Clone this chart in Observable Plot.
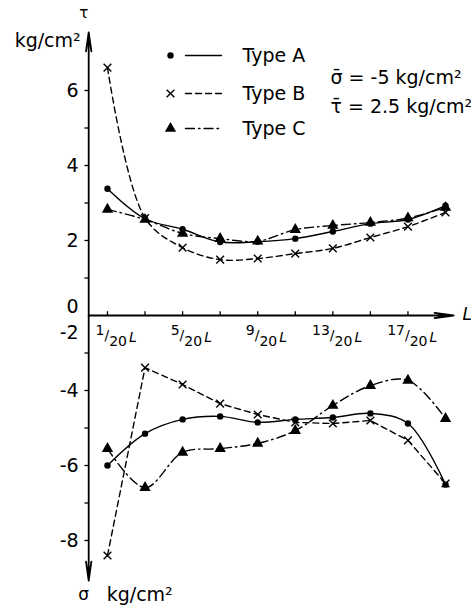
<!DOCTYPE html>
<html><head><meta charset="utf-8">
<script src="https://cdn.jsdelivr.net/npm/d3@7"></script>
<script src="https://cdn.jsdelivr.net/npm/@observablehq/plot@0.6"></script>
<style>body{margin:0;background:#fff}</style>
</head><body><div id="chart"></div>
<script>
// positions along the beam, in twentieths of L
const positions = [1, 3, 5, 7, 9, 11, 13, 15, 17, 19];
const seriesNames = ["Type A", "Type B", "Type C"];
// shear stress tau (kg/cm2)
const tauA = [3.38, 2.58, 2.30, 1.96, 1.97, 2.05, 2.24, 2.45, 2.56, 2.93];
const tauB = [6.61, 2.60, 1.81, 1.49, 1.52, 1.65, 1.79, 2.08, 2.37, 2.75];
const tauC = [2.83, 2.56, 2.19, 2.05, 1.98, 2.29, 2.40, 2.48, 2.60, 2.88];
// normal stress sigma (kg/cm2)
const sigmaA = [-6.00, -5.15, -4.77, -4.69, -4.85, -4.77, -4.72, -4.61, -4.88, -6.51];
const sigmaB = [-8.40, -3.39, -3.84, -4.35, -4.64, -4.85, -4.88, -4.80, -5.33, -6.48];
const sigmaC = [-5.55, -6.59, -5.65, -5.55, -5.41, -5.07, -4.40, -3.87, -3.73, -4.75];
// tick labels
const xLabelPos = [1, 5, 9, 13, 17];
const xLabelNums = ["1", "5", "9", "13", "17"];
const xTickPos = [1, 3, 5, 7, 9, 11, 13, 15, 17];
const tauTicks = [1, 2, 3, 4, 5, 6];
const tauTickLabels = [0, 2, 4, 6];
const sigmaTicks = [-3, -4, -5, -6, -7, -8];
const sigmaTickLabels = [-2, -4, -6, -8];
const annotations = ["σ\u0304 = -5 kg/cm²", "τ\u0304 = 2.5 kg/cm²"];

// broken axis: the sigma panel is drawn shifted so that sigma=-2 sits on the x axis
const SIGMA_SHIFT = 2;
const axisExtent = {xEnd: 19.43, yTop: 7.55, yBottom: -7.07};

const tauSets = {"Type A": tauA, "Type B": tauB, "Type C": tauC};
const sigmaSets = {"Type A": sigmaA, "Type B": sigmaB, "Type C": sigmaC};
const rows = [];
for (const s of seriesNames) {
  positions.forEach((p, i) => {
    rows.push({series: s, panel: "tau", x: p, value: tauSets[s][i], v: tauSets[s][i]});
    rows.push({series: s, panel: "sigma", x: p, value: sigmaSets[s][i], v: sigmaSets[s][i] + SIGMA_SHIFT});
  });
}

const style = {
  "Type A": {dash: null, symbol: "circle", fill: "black", stroke: "none", r: 3.2, curve: {tau: "catmull-rom", sigma: "catmull-rom"}},
  "Type B": {dash: "6,4", symbol: "times", fill: "none", stroke: "black", r: 3.6, curve: {tau: "catmull-rom", sigma: "linear"}},
  "Type C": {dash: "9,4,1.5,4", symbol: "triangle", fill: "black", stroke: "none", r: 4.2, curve: {tau: "catmull-rom", sigma: "catmull-rom"}}
};

const W = 471, H = 608;
const xDomain = [0, 20], xRange = [88.2, 463.8];
const yDomain = [-7.6, 8], yRange = [600, 15];
const px = d3.scaleLinear(xRange, xDomain); // pixel -> data (legend placement)
const py = d3.scaleLinear(yRange, yDomain);

const marks = [];
// axes
marks.push(Plot.arrow([{x1: 0, y1: 0, x2: 0, y2: axisExtent.yTop}, {x1: 0, y1: 0, x2: 0, y2: axisExtent.yBottom}, {x1: 0, y1: 0, x2: axisExtent.xEnd, y2: 0}],
  {x1: "x1", y1: "y1", x2: "x2", y2: "y2", bend: 0, headLength: 16, headAngle: 16, stroke: "black", strokeWidth: 1.8}));
marks.push(Plot.ruleX(xTickPos, {x: d => d, y1: 0, y2: 0.1, stroke: "black", strokeWidth: 1.3}));
marks.push(Plot.ruleY(tauTicks, {y: d => d, x1: -0.2, x2: 0, stroke: "black", strokeWidth: 1.3}));
marks.push(Plot.ruleY(sigmaTicks, {y: d => d + SIGMA_SHIFT, x1: -0.2, x2: 0, stroke: "black", strokeWidth: 1.3}));
// y tick labels ("0" sits just above the x axis, "-2" just below it)
marks.push(Plot.text(tauTickLabels.filter(d => d !== 0), {x: 0, y: d => d, text: d => String(d), textAnchor: "end", dx: -10, fontSize: 19}));
marks.push(Plot.text(tauTickLabels.filter(d => d === 0), {x: 0, y: d => d, text: d => String(d), textAnchor: "end", dx: -10, dy: -9, fontSize: 19}));
marks.push(Plot.text(sigmaTickLabels.filter(d => d !== -2), {x: 0, y: d => d + SIGMA_SHIFT, text: d => String(d), textAnchor: "end", dx: -10, fontSize: 19}));
marks.push(Plot.text(sigmaTickLabels.filter(d => d === -2), {x: 0, y: d => d + SIGMA_SHIFT, text: d => String(d), textAnchor: "end", dx: -10, dy: 17, fontSize: 19}));
// x tick labels
marks.push(Plot.text(xLabelPos, {x: d => d, y: 0, text: (d, i) => xLabelNums[i], textAnchor: "end", dx: -3, dy: 15, fontSize: 14}));
marks.push(Plot.text(xLabelPos, {x: d => d, y: 0, text: () => "/20L", textAnchor: "start", dx: -3, dy: 20, fontSize: 14}));
// axis titles
marks.push(Plot.text(["τ"], {x: 0, y: py(13), text: d => d, dx: -5, fontSize: 15}));
marks.push(Plot.text(["kg/cm²"], {x: 0, y: py(40), text: d => d, textAnchor: "end", dx: -8, fontSize: 19}));
marks.push(Plot.text(["L"], {x: axisExtent.xEnd, y: 0, text: d => d, textAnchor: "start", dx: 9, dy: -1, fontSize: 17, fontStyle: "italic"}));
marks.push(Plot.text(["σ"], {x: 0, y: py(594), text: d => d, dx: -5, fontSize: 17}));
marks.push(Plot.text(["kg/cm²"], {x: 0, y: py(594), text: d => d, textAnchor: "start", dx: 18, fontSize: 19}));
marks.push(Plot.text(annotations, {x: px(330), y: (d, i) => py(77 + i * 29), text: d => d, textAnchor: "start", fontSize: 19}));
// data
for (const s of seriesNames) {
  for (const panel of ["tau", "sigma"]) {
    const d = rows.filter(r => r.series === s && r.panel === panel);
    marks.push(Plot.line(d, {x: "x", y: "v", curve: style[s].curve[panel], stroke: "black", strokeWidth: 1.4, strokeDasharray: style[s].dash}));
    marks.push(Plot.dot(d, {x: "x", y: "v", symbol: style[s].symbol, r: style[s].r, fill: style[s].fill, stroke: style[s].stroke, strokeWidth: 1.4}));
  }
}
// legend
const legendY = [55, 93, 128];
seriesNames.forEach((s, i) => {
  const yy = py(legendY[i]);
  marks.push(Plot.line([[px(185), yy], [px(221), yy]], {stroke: "black", strokeWidth: 1.4, strokeDasharray: style[s].dash}));
  marks.push(Plot.dot([s], {x: px(170), y: yy, symbol: style[s].symbol, r: style[s].r, fill: style[s].fill, stroke: style[s].stroke, strokeWidth: 1.4}));
  marks.push(Plot.text([s], {x: px(242), y: yy, text: d => d, textAnchor: "start", fontSize: 19}));
});

const svg = Plot.plot({
  width: W, height: H,
  marginLeft: 88.2, marginRight: 7.2, marginTop: 15, marginBottom: 8,
  x: {domain: xDomain, range: xRange, axis: null},
  y: {domain: yDomain, range: yRange, axis: null},
  style: {fontFamily: "DejaVu Sans", background: "white", color: "black", overflow: "visible"},
  marks
});
d3.select(svg).selectAll("text").each(function () {
  if (this.textContent === "/20L") {
    const t = d3.select(this);
    t.text(null);
    t.append("tspan").text("/");
    t.append("tspan").attr("dy", 6).text("20");
    t.append("tspan").attr("dy", -4).attr("dx", 2).attr("font-style", "italic").text("L");
  }
});
document.getElementById("chart").appendChild(svg);
</script>
</body></html>
